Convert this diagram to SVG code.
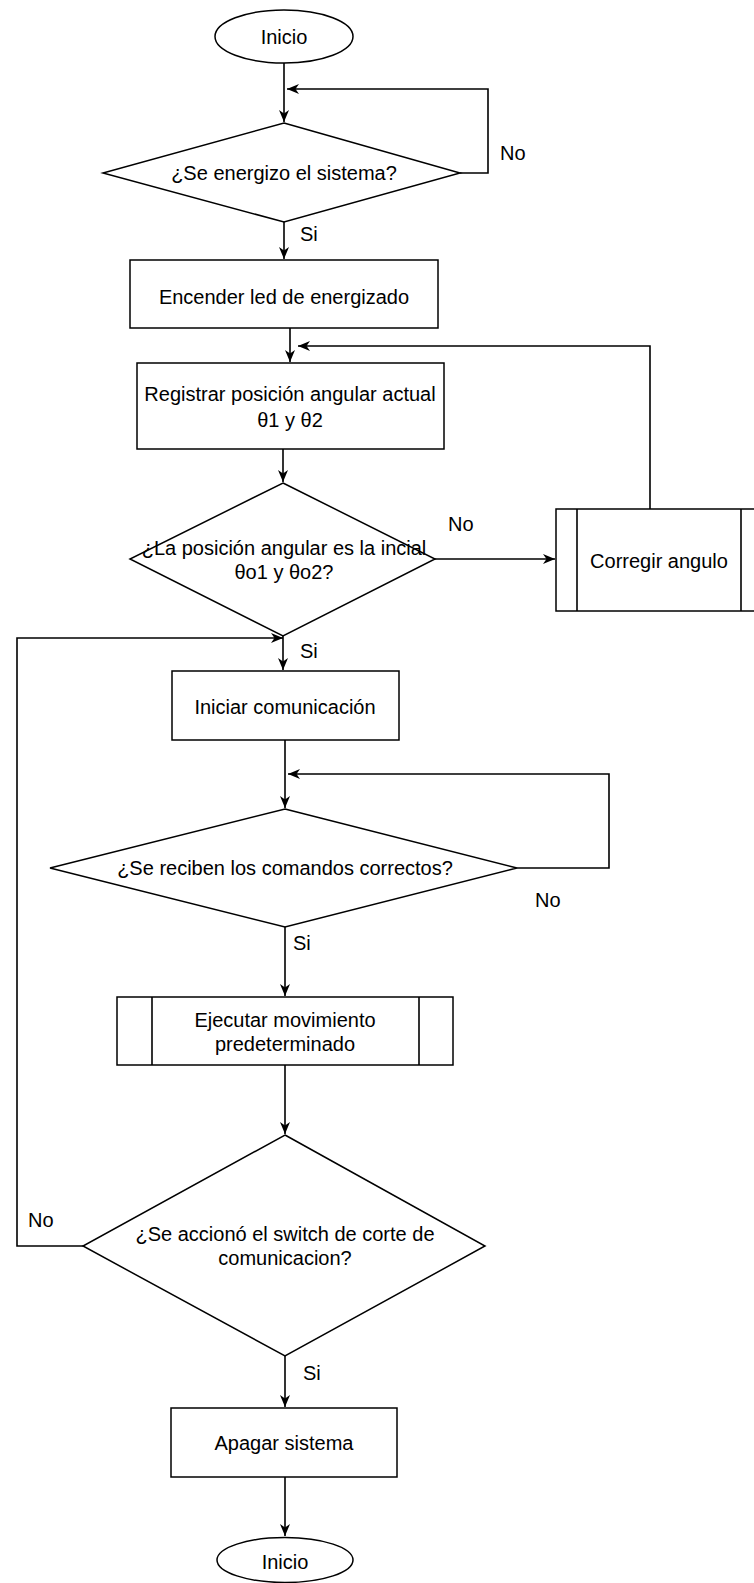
<svg xmlns="http://www.w3.org/2000/svg" width="754" height="1583" viewBox="0 0 754 1583">
<defs>
<style>
.s{fill:#fff;stroke:#000;stroke-width:1.5}
.ln{fill:none;stroke:#000;stroke-width:1.6}
.t{font-family:"Liberation Sans",Arial,Helvetica,sans-serif;font-size:20px;fill:#000;text-anchor:middle}
.l{font-family:"Liberation Sans",Arial,Helvetica,sans-serif;font-size:20px;fill:#000}
</style>
<marker id="arr" viewBox="0 0 12 10" refX="12" refY="5" markerWidth="12" markerHeight="10" markerUnits="userSpaceOnUse" orient="auto">
<path d="M0,0 L12,5 L0,10 L3.5,5 z" fill="#000"/>
</marker>
</defs>
<rect width="754" height="1583" fill="#fff"/>

<g id="connectors">
<path class="ln" d="M284,63 V122" marker-end="url(#arr)"/>
<path class="ln" d="M460,173 H488 V89 H287" marker-end="url(#arr)"/>
<path class="ln" d="M284,222 V259" marker-end="url(#arr)"/>
<path class="ln" d="M290,328 V362" marker-end="url(#arr)"/>
<path class="ln" d="M650,509 V346 H298" marker-end="url(#arr)"/>
<path class="ln" d="M283,449 V482" marker-end="url(#arr)"/>
<path class="ln" d="M435,559 H555" marker-end="url(#arr)"/>
<path class="ln" d="M283,636 V670" marker-end="url(#arr)"/>
<path class="ln" d="M285,740 V808" marker-end="url(#arr)"/>
<path class="ln" d="M517,868 H609 V774 H288" marker-end="url(#arr)"/>
<path class="ln" d="M285,927 V996" marker-end="url(#arr)"/>
<path class="ln" d="M285,1065 V1134" marker-end="url(#arr)"/>
<path class="ln" d="M83,1246 H17 V638 H283" marker-end="url(#arr)"/>
<path class="ln" d="M285,1356 V1407" marker-end="url(#arr)"/>
<path class="ln" d="M285,1477 V1536" marker-end="url(#arr)"/>
<text class="l" x="500" y="160">No</text>
<text class="l" x="300" y="241">Si</text>
<text class="l" x="448" y="531">No</text>
<text class="l" x="300" y="658">Si</text>
<text class="l" x="535" y="907">No</text>
<text class="l" x="293" y="950">Si</text>
<text class="l" x="28" y="1227">No</text>
<text class="l" x="303" y="1380">Si</text>
</g>

<g id="start">
<ellipse class="s" cx="284" cy="36.5" rx="69" ry="26.5"/>
<text class="t" x="284" y="44">Inicio</text>
</g>

<g id="dec-energizo">
<polygon class="s" points="284,123 460,173 284,222 103,173"/>
<text class="t" x="284" y="180">¿Se energizo el sistema?</text>
</g>

<g id="encender">
<rect class="s" x="130" y="260" width="308" height="68"/>
<text class="t" x="284" y="304">Encender led de energizado</text>
</g>

<g id="registrar">
<rect class="s" x="137" y="363" width="307" height="86"/>
<text class="t" x="290" y="401">Registrar posición angular actual</text>
<text class="t" x="290" y="427">θ1 y θ2</text>
</g>

<g id="dec-posicion">
<polygon class="s" points="283,483 435,559 283,636 130,559"/>
<text class="t" x="284" y="555">¿La posición angular es la incial</text>
<text class="t" x="284" y="579">θo1 y θo2?</text>
</g>

<g id="corregir">
<rect class="s" x="556" y="509" width="208" height="102"/>
<line class="ln" x1="577" y1="509" x2="577" y2="611"/>
<line class="ln" x1="741" y1="509" x2="741" y2="611"/>
<text class="t" x="659" y="568">Corregir angulo</text>
</g>

<g id="iniciar">
<rect class="s" x="172" y="671" width="227" height="69"/>
<text class="t" x="285" y="714">Iniciar comunicación</text>
</g>

<g id="dec-comandos">
<polygon class="s" points="285,809 517,868 285,927 50,868"/>
<text class="t" x="285" y="875">¿Se reciben los comandos correctos?</text>
</g>

<g id="ejecutar">
<rect class="s" x="117" y="997" width="336" height="68"/>
<line class="ln" x1="152" y1="997" x2="152" y2="1065"/>
<line class="ln" x1="419" y1="997" x2="419" y2="1065"/>
<text class="t" x="285" y="1027">Ejecutar movimiento</text>
<text class="t" x="285" y="1051">predeterminado</text>
</g>

<g id="dec-switch">
<polygon class="s" points="285,1135 485,1246 285,1356 83,1246"/>
<text class="t" x="285" y="1241">¿Se accionó el switch de corte de</text>
<text class="t" x="285" y="1265">comunicacion?</text>
</g>

<g id="apagar">
<rect class="s" x="171" y="1408" width="226" height="69"/>
<text class="t" x="284" y="1450">Apagar sistema</text>
</g>

<g id="end">
<ellipse class="s" cx="285" cy="1560" rx="68" ry="22.5"/>
<text class="t" x="285" y="1569">Inicio</text>
</g>
</svg>
